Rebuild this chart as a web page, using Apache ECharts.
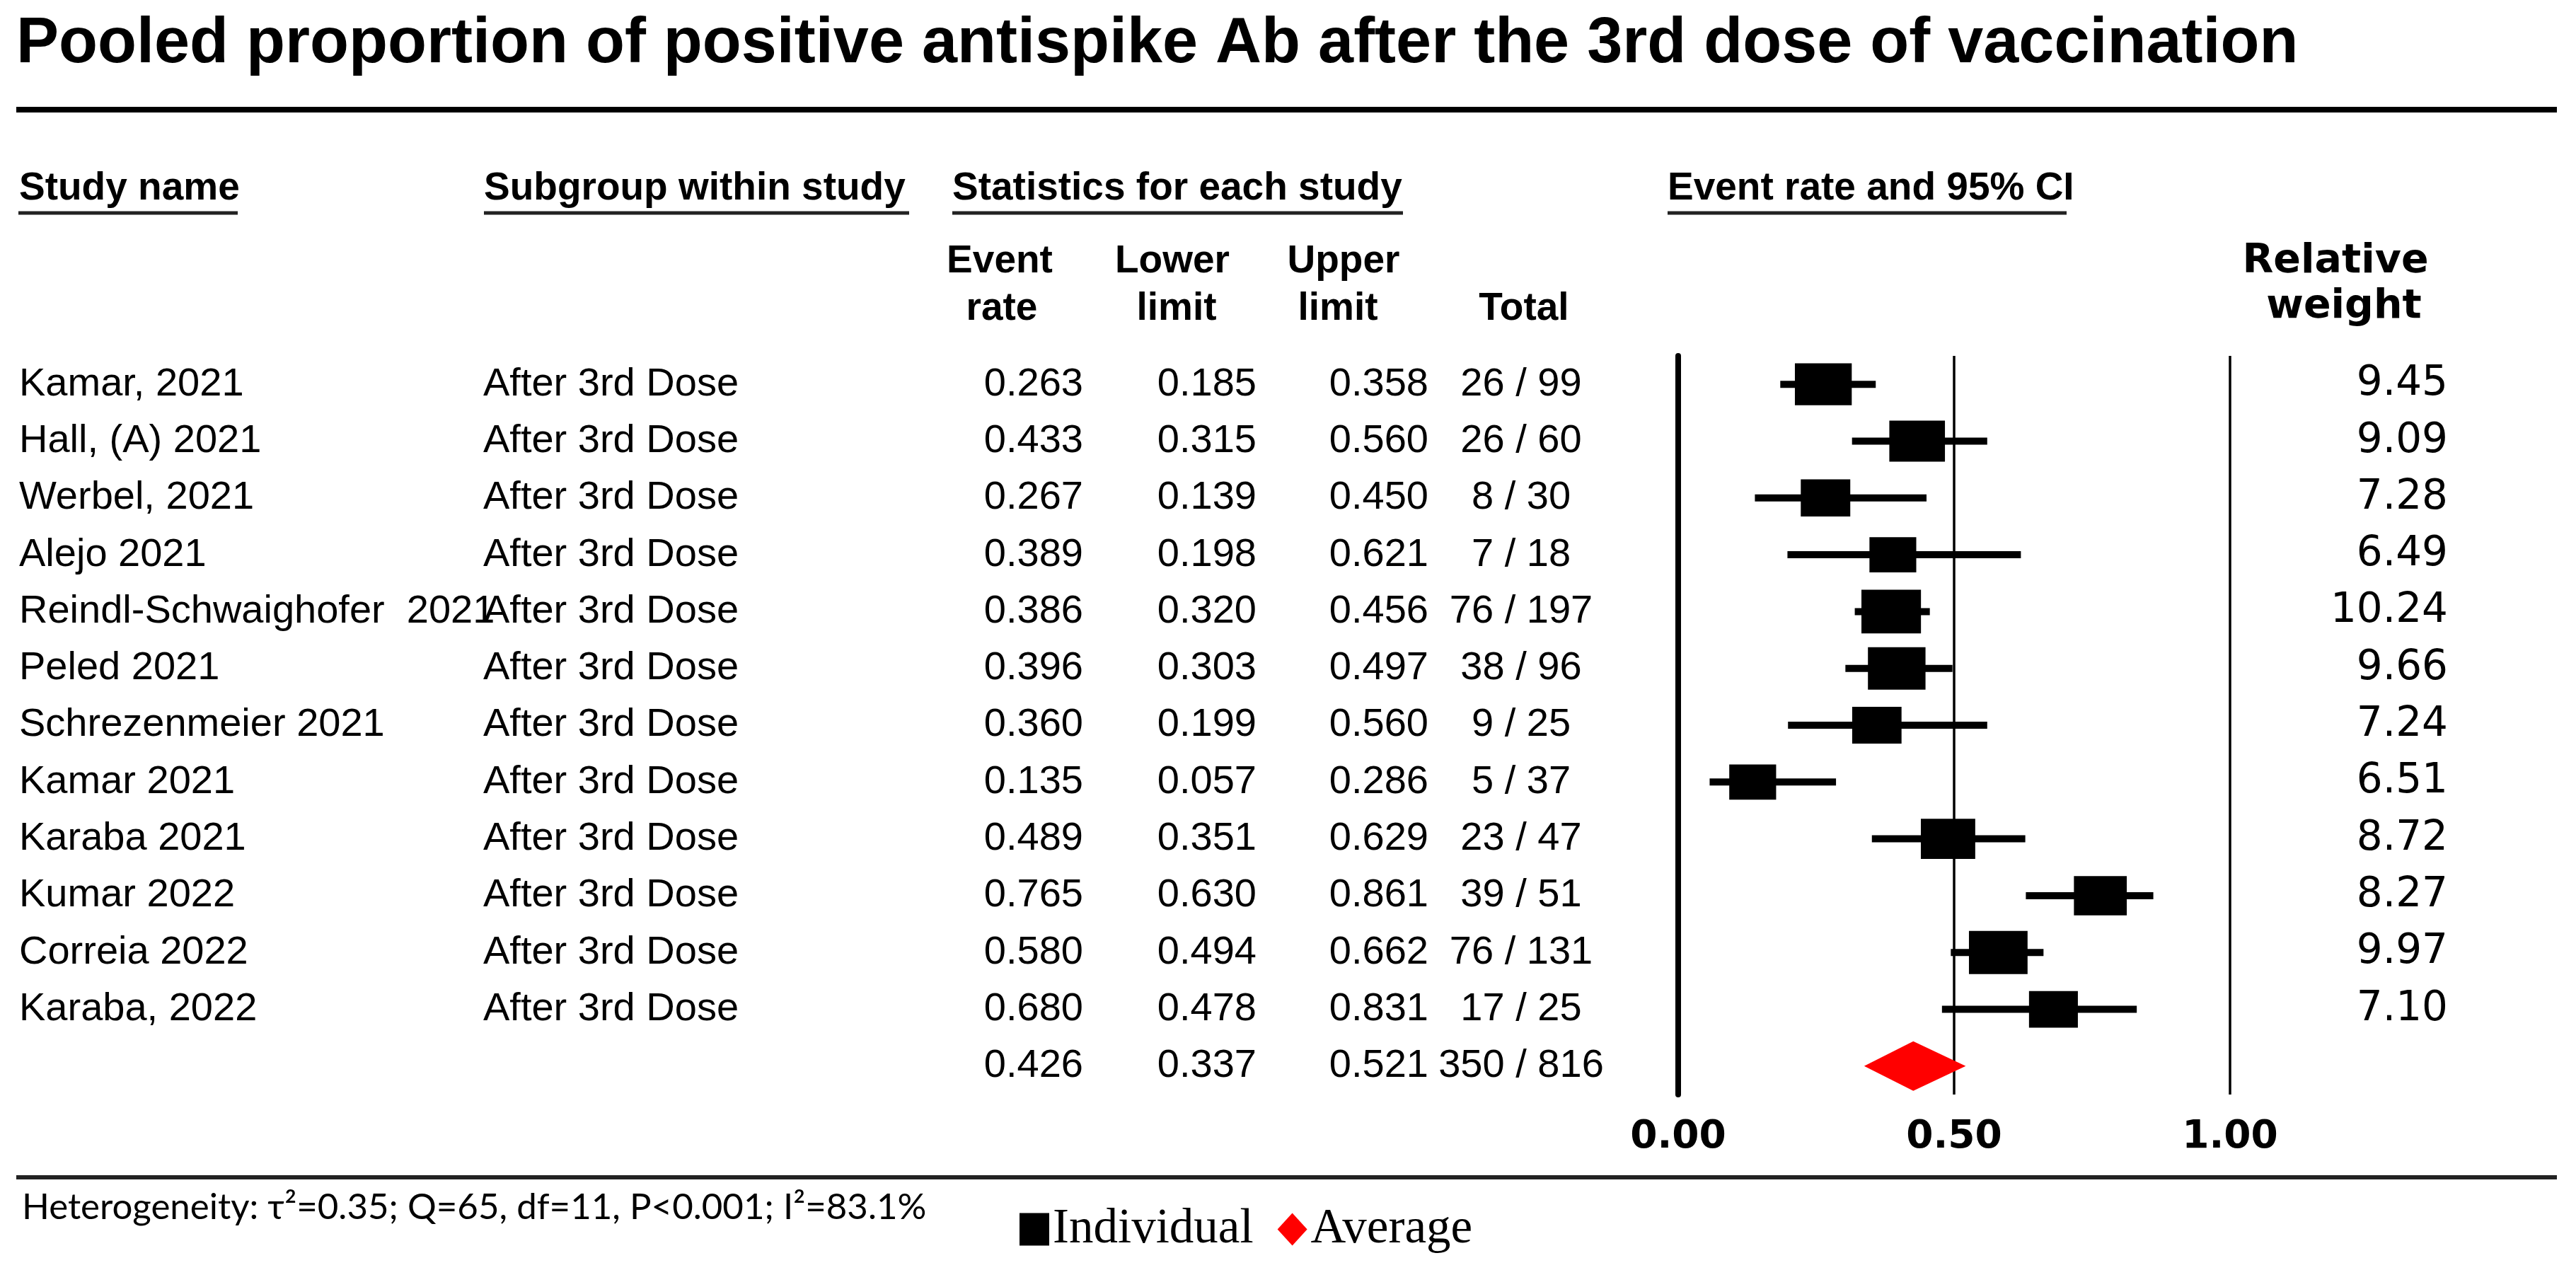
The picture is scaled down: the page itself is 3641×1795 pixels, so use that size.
<!DOCTYPE html>
<html>
<head>
<meta charset="utf-8">
<script src="https://cdn.jsdelivr.net/npm/echarts@6/dist/echarts.min.js"></script>
<style>html,body{margin:0;padding:0;background:#fff}#c{width:3641px;height:1795px}</style>
</head>
<body>
<div id="c"></div>
<script>
// ---------------- data ----------------
const studies = ["Kamar, 2021","Hall, (A) 2021","Werbel, 2021","Alejo 2021","Reindl-Schwaighofer  2021","Peled 2021","Schrezenmeier 2021","Kamar 2021","Karaba 2021","Kumar 2022","Correia 2022","Karaba, 2022"];
const subgroups = ["After 3rd Dose","After 3rd Dose","After 3rd Dose","After 3rd Dose","After 3rd Dose","After 3rd Dose","After 3rd Dose","After 3rd Dose","After 3rd Dose","After 3rd Dose","After 3rd Dose","After 3rd Dose"];
const eventRate = [0.263,0.433,0.267,0.389,0.386,0.396,0.360,0.135,0.489,0.765,0.580,0.680];
const lowerLimit = [0.185,0.315,0.139,0.198,0.320,0.303,0.199,0.057,0.351,0.630,0.494,0.478];
const upperLimit = [0.358,0.560,0.450,0.621,0.456,0.497,0.560,0.286,0.629,0.861,0.662,0.831];
const totals = ["26 / 99","26 / 60","8 / 30","7 / 18","76 / 197","38 / 96","9 / 25","5 / 37","23 / 47","39 / 51","76 / 131","17 / 25"];
const weights = [9.45,9.09,7.28,6.49,10.24,9.66,7.24,6.51,8.72,8.27,9.97,7.10];
const pooledRate = 0.426;
const pooledLower = 0.337;
const pooledUpper = 0.521;
const pooledTotal = "350 / 816";
const axisTicks = [0, 0.5, 1];
const heterogeneity = "Heterogeneity: \u03C4\u00B2=0.35; Q=65, df=11, P<0.001; I\u00B2=83.1%";
const titleText = "Pooled proportion of positive antispike Ab after the 3rd dose of vaccination";

// ---------------- layout / style ----------------
const SANS = "'Liberation Sans', Arial, sans-serif";
const WIDE = "'DejaVu Sans', sans-serif";
const SERIF = "'Liberation Serif', 'Times New Roman', serif";
const nRows = studies.length + 1;
const rowKeys = Array.from({length: nRows}, (_, i) => String(i));

const chart = echarts.init(document.getElementById('c'), null, {renderer: 'canvas'});

function textColumn(values, x, align, font) {
  return {
    type: 'custom', silent: true, z: 5, clip: false,
    coordinateSystem: 'cartesian2d',
    encode: {x: 0, y: 1},
    data: values.map((v, i) => [0, i]),
    renderItem: function (params, api) {
      const y = api.coord([0, api.value(1)])[1];
      return {
        type: 'text', x: x, y: y,
        style: {text: values[params.dataIndex], font: font, fill: '#000',
                align: align, textAlign: align, verticalAlign: 'middle', textVerticalAlign: 'middle'}
      };
    }
  };
}

const rowFont = "56px " + SANS;
const rateTexts = eventRate.concat([pooledRate]).map(v => v.toFixed(3));
const lowTexts = lowerLimit.concat([pooledLower]).map(v => v.toFixed(3));
const upTexts = upperLimit.concat([pooledUpper]).map(v => v.toFixed(3));
const totalTexts = totals.concat([pooledTotal]);
const weightTexts = weights.map(v => v.toFixed(2));

function gText(text, x, y, font, align) {
  return {type: 'text', x: x, y: y, silent: true,
    style: {text: text, font: font, fill: '#000', align: align || 'left', textAlign: align || 'left',
            verticalAlign: 'middle', textVerticalAlign: 'middle'}};
}
function gLine(x1, y1, x2, y2, w, c) {
  return {type: 'line', silent: true, shape: {x1: x1, y1: y1, x2: x2, y2: y2},
    style: {stroke: c || '#000', lineWidth: w}};
}

const hdrFont = "bold 55px " + SANS;
const relFont = "bold 57px " + WIDE;

const graphics = [
  gLine(23, 155, 3614, 155, 8),
  gLine(23, 1664, 3614, 1664, 6, '#222'),
  gText("Study name", 27, 267, hdrFont),
  gText("Subgroup within study", 684, 267, hdrFont),
  gText("Statistics for each study", 1346, 267, hdrFont),
  gText("Event rate and 95% CI", 2357, 267, hdrFont),
  gLine(26, 301, 336, 301, 5, '#222'),
  gLine(684, 301, 1285, 301, 5, '#222'),
  gLine(1346, 301, 1983, 301, 5, '#222'),
  gLine(2357, 301, 2921, 301, 5, '#222'),
  gText("Event", 1413, 370, hdrFont, 'center'),
  gText("rate", 1416, 437, hdrFont, 'center'),
  gText("Lower", 1657, 370, hdrFont, 'center'),
  gText("limit", 1663, 437, hdrFont, 'center'),
  gText("Upper", 1899, 370, hdrFont, 'center'),
  gText("limit", 1891, 437, hdrFont, 'center'),
  gText("Total", 2154, 437, hdrFont, 'center'),
  gText("Relative", 3301, 370, relFont, 'center'),
  gText("weight", 3313, 434, relFont, 'center'),
  gText(heterogeneity, 31, 1707, "51px Lato, 'Open Sans', sans-serif")
];

const option = {
  backgroundColor: '#fff',
  animation: false,
  title: {
    text: titleText, left: 23, top: 18, padding: 0,
    textStyle: {fontFamily: SANS, fontWeight: 'bold', fontSize: 90, color: '#000'}
  },
  legend: {
    left: 1441, top: 1703, padding: 0,
    itemWidth: 42, itemHeight: 46, itemGap: 34, selectedMode: false,
    textStyle: {fontFamily: SERIF, fontSize: 69, color: '#000'},
    data: [{name: 'Individual', icon: 'rect'}, {name: 'Average', icon: 'diamond'}]
  },
  grid: {left: 2372, width: 780, top: 503, height: 1044, containLabel: false},
  xAxis: {
    type: 'value', min: axisTicks[0], max: axisTicks[axisTicks.length - 1], interval: 0.5,
    axisLine: {show: false}, axisTick: {show: false},
    splitLine: {show: true, lineStyle: {color: '#000', width: 3.5}},
    axisLabel: {margin: 33, formatter: v => v.toFixed(2),
      fontFamily: WIDE, fontWeight: 'bold', fontSize: 55, color: '#000'}
  },
  yAxis: {
    type: 'category', data: rowKeys, inverse: true,
    axisLine: {show: true, lineStyle: {color: '#000', width: 8}},
    axisTick: {show: false}, axisLabel: {show: false}, splitLine: {show: false}
  },
  graphic: graphics,
  series: [
    {
      type: 'custom', name: 'CI', silent: true, z: 3,
      encode: {x: [0, 1], y: 2},
      data: lowerLimit.map((lo, i) => [lo, upperLimit[i], i]),
      renderItem: function (params, api) {
        const a = api.coord([api.value(0), api.value(2)]);
        const b = api.coord([api.value(1), api.value(2)]);
        return {type: 'line', shape: {x1: a[0], y1: a[1], x2: b[0], y2: b[1]},
          style: {stroke: '#000', lineWidth: 10}};
      }
    },
    {
      type: 'scatter', name: 'Individual', silent: true, z: 4,
      symbol: 'rect',
      symbolSize: function (val) { return [35 + 4.8 * val[2], 29 + 3.2 * val[2]]; },
      itemStyle: {color: '#000', opacity: 1},
      data: eventRate.map((r, i) => [r, i, weights[i]])
    },
    {
      type: 'custom', name: 'Average', silent: true, z: 4,
      itemStyle: {color: '#ff0000'},
      encode: {x: [0, 1, 2], y: 3},
      data: [[pooledLower, pooledRate, pooledUpper, nRows - 1]],
      renderItem: function (params, api) {
        const row = api.value(3);
        const lo = api.coord([api.value(0), row]);
        const mid = api.coord([api.value(1), row]);
        const hi = api.coord([api.value(2), row]);
        const hh = 35;
        return {type: 'polygon',
          shape: {points: [[lo[0], lo[1]], [mid[0], mid[1] - hh], [hi[0], hi[1]], [mid[0], mid[1] + hh]]},
          style: {fill: '#ff0000'}};
      }
    },
    textColumn(studies, 27, 'left', rowFont),
    textColumn(subgroups, 683, 'left', rowFont),
    textColumn(rateTexts, 1531, 'right', rowFont),
    textColumn(lowTexts, 1776, 'right', rowFont),
    textColumn(upTexts, 2019, 'right', rowFont),
    textColumn(totalTexts, 2150, 'center', rowFont),
    textColumn(weightTexts, 3460, 'right', "58px " + WIDE)
  ]
};
chart.setOption(option);
</script>
</body>
</html>
